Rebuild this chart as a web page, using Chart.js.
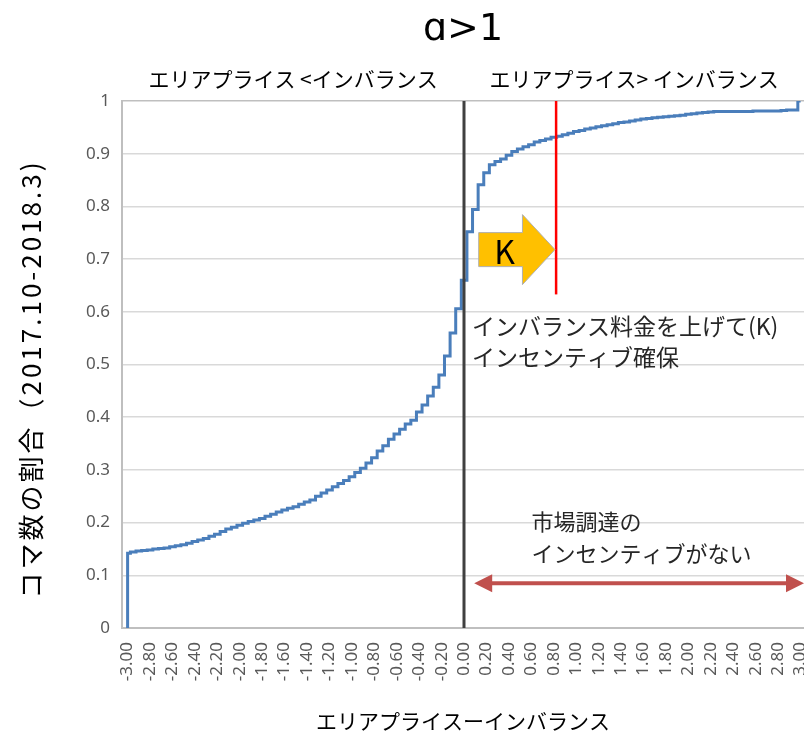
<!DOCTYPE html>
<html lang="ja">
<head>
<meta charset="utf-8">
<script src="https://cdn.jsdelivr.net/npm/chart.js@4.4.1/dist/chart.umd.min.js"></script>
<style>
  html, body { margin: 0; padding: 0; background: #fff; }
  #wrap { width: 804px; height: 738px; }
</style>
</head>
<body>
<div id="wrap"><canvas id="cdfChart" width="804" height="738"></canvas></div>
<script>
// --- Data ---
// bin centres of (area price - imbalance price), step 0.05
const binCenters = [
  -3.00, -2.95, -2.90, -2.85, -2.80, -2.75, -2.70, -2.65, -2.60, -2.55,
  -2.50, -2.45, -2.40, -2.35, -2.30, -2.25, -2.20, -2.15, -2.10, -2.05,
  -2.00, -1.95, -1.90, -1.85, -1.80, -1.75, -1.70, -1.65, -1.60, -1.55,
  -1.50, -1.45, -1.40, -1.35, -1.30, -1.25, -1.20, -1.15, -1.10, -1.05,
  -1.00, -0.95, -0.90, -0.85, -0.80, -0.75, -0.70, -0.65, -0.60, -0.55,
  -0.50, -0.45, -0.40, -0.35, -0.30, -0.25, -0.20, -0.15, -0.10, -0.05,
   0.00,  0.05,  0.10,  0.15,  0.20,  0.25,  0.30,  0.35,  0.40,  0.45,
   0.50,  0.55,  0.60,  0.65,  0.70,  0.75,  0.80,  0.85,  0.90,  0.95,
   1.00,  1.05,  1.10,  1.15,  1.20,  1.25,  1.30,  1.35,  1.40,  1.45,
   1.50,  1.55,  1.60,  1.65,  1.70,  1.75,  1.80,  1.85,  1.90,  1.95,
   2.00,  2.05,  2.10,  2.15,  2.20,  2.25,  2.30,  2.35,  2.40,  2.45,
   2.50,  2.55,  2.60,  2.65,  2.70,  2.75,  2.80,  2.85,  2.90,  2.95,
   3.00
];

// cumulative share of periods (コマ数の割合)
const cdfValues = [
  0.142, 0.144, 0.146, 0.147, 0.148, 0.150, 0.151, 0.152, 0.154, 0.156,
  0.158, 0.161, 0.164, 0.167, 0.170, 0.174, 0.178, 0.183, 0.188, 0.191,
  0.195, 0.199, 0.202, 0.205, 0.208, 0.212, 0.216, 0.220, 0.224, 0.227,
  0.230, 0.235, 0.239, 0.243, 0.250, 0.256, 0.262, 0.268, 0.274, 0.280,
  0.287, 0.295, 0.303, 0.313, 0.323, 0.336, 0.346, 0.358, 0.368, 0.377,
  0.387, 0.394, 0.410, 0.423, 0.440, 0.457, 0.480, 0.516, 0.560, 0.606,
  0.660, 0.752, 0.794, 0.841, 0.864, 0.879, 0.885, 0.890, 0.897, 0.904,
  0.909, 0.913, 0.917, 0.922, 0.925, 0.928, 0.931, 0.933, 0.936, 0.939,
  0.942, 0.944, 0.947, 0.949, 0.951, 0.953, 0.955, 0.957, 0.959, 0.960,
  0.962, 0.964, 0.966, 0.967, 0.968, 0.969, 0.970, 0.971, 0.972, 0.973,
  0.975, 0.976, 0.977, 0.978, 0.979, 0.980, 0.980, 0.980, 0.980, 0.980,
  0.980, 0.980, 0.981, 0.981, 0.981, 0.981, 0.981, 0.982, 0.983, 0.983,
  1.000
];
const startValue = 0;

const xTickLabels = [
  '-3.00', '-2.80', '-2.60', '-2.40', '-2.20', '-2.00', '-1.80', '-1.60',
  '-1.40', '-1.20', '-1.00', '-0.80', '-0.60', '-0.40', '-0.20', '0.00',
  '0.20', '0.40', '0.60', '0.80', '1.00', '1.20', '1.40', '1.60', '1.80',
  '2.00', '2.20', '2.40', '2.60', '2.80', '3.00'
];
const yTickLabels = ['0', '0.1', '0.2', '0.3', '0.4', '0.5', '0.6', '0.7', '0.8', '0.9', '1'];

const chartTitle = 'ɑ>1';
const leftSideLabel = 'エリアプライス <インバランス';
const rightSideLabel = 'エリアプライス> インバランス';
const xAxisTitle = 'エリアプライスーインバランス';
const yAxisTitle = 'コマ数の割合（2017.10-2018.3)';
const noteK = ['インバランス料金を上げて(K)', 'インセンティブ確保'];
const noteMarket = ['市場調達の', 'インセンティブがない'];

// --- Build points ---
const points = [{ x: binCenters[0], y: startValue }]
  .concat(binCenters.map((x, i) => ({ x: x, y: cdfValues[i] })));

const JP = '"Noto Sans CJK JP", "Noto Sans", sans-serif';

function lineBetween(ctx, x1, y1, x2, y2) {
    ctx.beginPath();
    ctx.moveTo(x1, y1);
    ctx.lineTo(x2, y2);
    ctx.stroke();
}

// --- Annotations drawn on top of the line ---
const annotationPlugin = {
    id: 'annotations',
    afterDatasetsDraw(chart) {
        const { ctx, chartArea: area, scales } = chart;
        const x = scales.x, y = scales.y;
        ctx.save();

        // zero line
        ctx.strokeStyle = '#404040';
        ctx.lineWidth = 3;
        const x0 = Math.round(x.getPixelForValue(0));
        lineBetween(ctx, x0, y.getPixelForValue(0), x0, y.getPixelForValue(1));

        // red K line
        ctx.strokeStyle = '#ff0000';
        ctx.lineWidth = 2.5;
        const xk = x.getPixelForValue(0.82);
        lineBetween(ctx, xk, y.getPixelForValue(1), xk, y.getPixelForValue(0.633));

        // orange block arrow
        const ax0 = x.getPixelForValue(0.13), axh = x.getPixelForValue(0.52), ax1 = x.getPixelForValue(0.81);
        const ayc = y.getPixelForValue(0.718);
        const bodyH = 17, headH = 35;
        ctx.beginPath();
        ctx.moveTo(ax0, ayc - bodyH);
        ctx.lineTo(axh, ayc - bodyH);
        ctx.lineTo(axh, ayc - headH);
        ctx.lineTo(ax1, ayc);
        ctx.lineTo(axh, ayc + headH);
        ctx.lineTo(axh, ayc + bodyH);
        ctx.lineTo(ax0, ayc + bodyH);
        ctx.closePath();
        ctx.fillStyle = '#ffc000';
        ctx.fill();
        ctx.strokeStyle = '#b0b0b0';
        ctx.lineWidth = 1;
        ctx.stroke();
        ctx.fillStyle = '#000';
        ctx.font = '32px ' + JP;
        ctx.textAlign = 'center';
        ctx.textBaseline = 'middle';
        ctx.fillText('K', x.getPixelForValue(0.36), ayc + 2);

        // red double arrow
        const dy = y.getPixelForValue(0.085);
        const dl = x.getPixelForValue(0.09), dr = area.right;
        const hl = 18, hw = 9;
        ctx.strokeStyle = '#c0504d';
        ctx.fillStyle = '#c0504d';
        ctx.lineWidth = 4;
        lineBetween(ctx, dl + hl - 2, dy, dr - hl + 2, dy);
        ctx.beginPath();
        ctx.moveTo(dl, dy); ctx.lineTo(dl + hl, dy - hw); ctx.lineTo(dl + hl, dy + hw); ctx.closePath();
        ctx.fill();
        ctx.beginPath();
        ctx.moveTo(dr, dy); ctx.lineTo(dr - hl, dy - hw); ctx.lineTo(dr - hl, dy + hw); ctx.closePath();
        ctx.fill();

        // notes
        ctx.fillStyle = '#262626';
        ctx.textAlign = 'left';
        ctx.font = '23px ' + JP;
        const nx = x.getPixelForValue(0.07);
        ctx.fillText(noteK[0], nx, y.getPixelForValue(0.573));
        ctx.fillText(noteK[1], nx, y.getPixelForValue(0.514));
        const mx = x.getPixelForValue(0.6);
        ctx.font = '22px ' + JP;
        ctx.fillText(noteMarket[0], mx, y.getPixelForValue(0.201));
        ctx.fillText(noteMarket[1], mx, y.getPixelForValue(0.142));

        ctx.restore();
    },
    afterDraw(chart) {
        const { ctx, chartArea: area, scales } = chart;
        const x0 = scales.x.getPixelForValue(0);
        ctx.save();
        ctx.fillStyle = '#000';
        ctx.textAlign = 'center';
        ctx.textBaseline = 'middle';

        ctx.font = '38px "DejaVu Sans", sans-serif';
        ctx.fillText(chartTitle, (area.left + area.right) / 2, 30);

        ctx.font = '21px ' + JP;
        ctx.fillText(leftSideLabel, (area.left + x0) / 2, 79);
        ctx.fillText(rightSideLabel, (x0 + area.right) / 2, 79);

        ctx.font = '21px ' + JP;
        ctx.fillText(xAxisTitle, (area.left + area.right) / 2, 721);

        ctx.translate(31, 379);
        ctx.rotate(-Math.PI / 2);
        ctx.font = '26px ' + JP;
        ctx.letterSpacing = '3px';
        ctx.fillText(yAxisTitle, 0, 0);
        ctx.restore();
    }
};

// --- Chart ---
const ctx = document.getElementById('cdfChart').getContext('2d');
const cdfChart = new Chart(ctx, {
    type: 'line',
    data: {
        datasets: [{
            data: points,
            borderColor: '#4a7ebb',
            borderWidth: 3,
            stepped: 'middle',
            pointRadius: 0,
            fill: false
        }]
    },
    options: {
        responsive: false,
        animation: false,
        devicePixelRatio: 1,
        layout: { padding: { top: 101, left: 0, right: 0, bottom: 0 } },
        plugins: { legend: { display: false }, tooltip: { enabled: false } },
        scales: {
            x: {
                type: 'linear',
                min: -3.05,
                max: 3.03,
                afterBuildTicks: (scale) => {
                    scale.ticks = xTickLabels.map(l => ({ value: parseFloat(l) }));
                },
                afterFit: (scale) => {
                    scale.height = 110;
                    scale.paddingLeft = 0;
                    scale.paddingRight = 0;
                },
                grid: { display: false, drawTicks: false },
                border: { color: '#bfbfbf', width: 2 },
                ticks: {
                    autoSkip: false,
                    minRotation: 90,
                    maxRotation: 90,
                    padding: 14,
                    color: '#595959',
                    font: { family: '"Noto Sans", sans-serif', size: 17 },
                    callback: (v, i) => xTickLabels[i]
                }
            },
            y: {
                min: 0,
                max: 1,
                afterFit: (scale) => {
                    scale.width = 122;
                    scale.paddingTop = 0;
                    scale.paddingBottom = 0;
                },
                grid: {
                    drawTicks: false,
                    color: (c) => c.tick && c.tick.value === 1 ? '#bfbfbf' : '#d9d9d9',
                    lineWidth: 1.5
                },
                border: { color: '#bfbfbf', width: 2 },
                ticks: {
                    stepSize: 0.1,
                    padding: 12,
                    color: '#595959',
                    font: { family: '"Noto Sans", sans-serif', size: 17 },
                    callback: (v, i) => yTickLabels[i]
                }
            }
        }
    },
    plugins: [annotationPlugin]
});
</script>
</body>
</html>
